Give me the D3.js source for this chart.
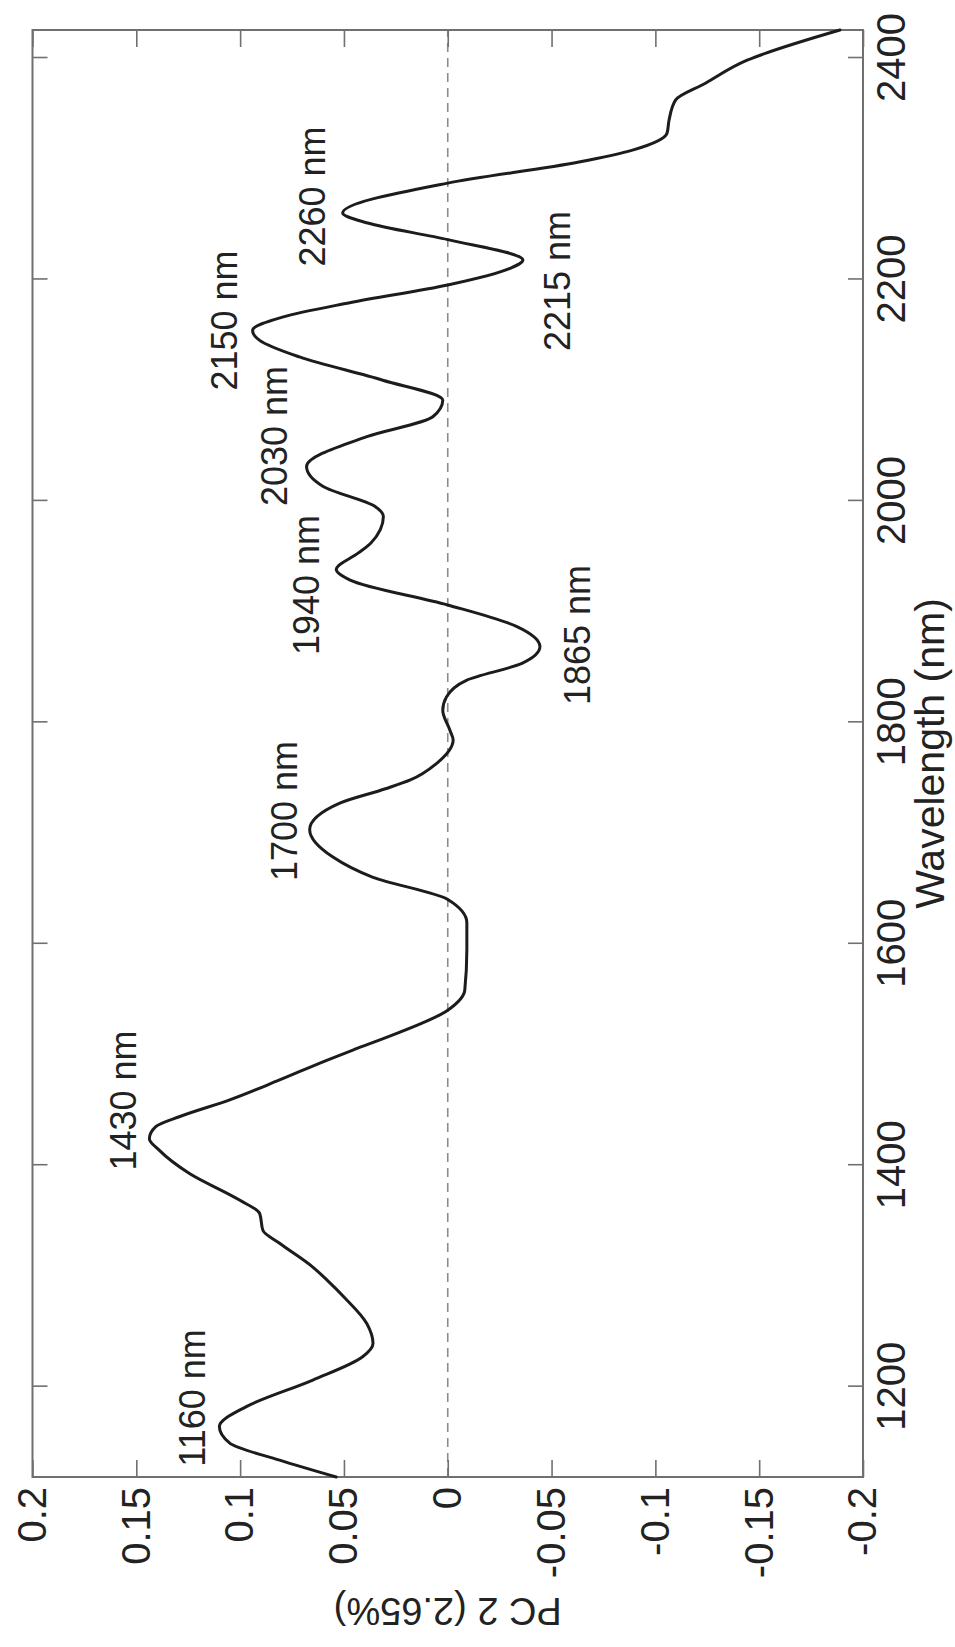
<!DOCTYPE html>
<html><head><meta charset="utf-8">
<script src="https://cdn.jsdelivr.net/npm/d3@7"></script>
<style>
html,body{margin:0;padding:0;background:#fff;}
svg{display:block;}
</style></head><body>
<svg id="chart" width="955" height="1647"></svg>
<script>
// ---- data ----
const wavelength = [1118.4,1133.6,1149,1164,1182,1206,1227,1239,1257,1281,1296,1308,1329.5,1341,1356.5,1368.5,1392.5,1413.6,1424,1435,1444,1459,1477,1495,1504,1513,1540,1558,1594.5,1619,1640,1660,1678.5,1703,1727,1740,1748,1763,1784,1793,1811,1823,1838,1853.5,1868.5,1886.5,1906,1928.5,1938,1953,1962,1986,1995,2013,2031,2058,2076,2091,2109,2130,2145,2154,2166,2179,2195,2210,2217.5,2236,2251,2260,2287,2306,2317,2332,2344,2362,2377,2398,2425.3];
const pc2 = [0.0537,0.081,0.105,0.110,0.097,0.065,0.041,0.036,0.039,0.050,0.058,0.065,0.081,0.089,0.0906,0.1003,0.1244,0.139,0.1437,0.1405,0.129,0.105,0.081,0.058,0.0457,0.033,0,-0.0082,-0.0092,-0.0092,0,0.036,0.0555,0.0665,0.052,0.030,0.018,0.0053,-0.0026,-0.001,0.0024,0.0006,-0.009,-0.036,-0.0444,-0.0333,0,0.047,0.0537,0.043,0.037,0.031,0.035,0.060,0.068,0.039,0.0072,0.0024,0.0313,0.0714,0.0906,0.094,0.0796,0.0472,0,-0.030,-0.0362,0,0.0386,0.0506,0,-0.0632,-0.0894,-0.1056,-0.1066,-0.1097,-0.1239,-0.1442,-0.1889];

const wlTicks = [1200,1400,1600,1800,2000,2200,2400];
const pcTicks = [-0.2,-0.15,-0.1,-0.05,0,0.05,0.1,0.15,0.2];
const pcTickLabels = ["-0.2","-0.15","-0.1","-0.05","0","0.05","0.1","0.15","0.2"];

const peakLabels = ["1160 nm","1430 nm","1700 nm","1865 nm","1940 nm","2030 nm","2150 nm","2215 nm","2260 nm"];
const peakLabelWl = [1189.8,1458.5,1719.9,1878.9,1924.0,2058.6,2162.9,2198.6,2274.9];
const peakLabelPc = [0.123,0.156,0.0786,-0.0624,0.068,0.0834,0.1075,-0.053,0.0653];

const xLabel = "Wavelength (nm)";
const yLabel = "PC 2 (2.65%)";
const wlDomain = [1118.4, 2425.3];
const pcDomain = [-0.2, 0.2];

// ---- layout (landscape chart, rotated -90deg onto the page) ----
const W = 1447, H = 830.5;
const FONT = "'Liberation Sans', Arial, Helvetica, sans-serif";
const svg = d3.select("#chart");
const g = svg.append("g").attr("transform", "translate(32.5,1477) rotate(-90)");

const x = d3.scaleLinear().domain(wlDomain).range([0, W]);
const y = d3.scaleLinear().domain(pcDomain).range([H, 0]);

function styleAxis(sel, fs) {
  sel.attr("font-family", FONT).attr("font-size", fs);
  sel.select(".domain").remove();
  sel.selectAll(".tick line").attr("stroke", "#707070").attr("stroke-width", 1.6);
  sel.selectAll(".tick text").attr("fill", "#222");
}

// zero line
g.append("line")
  .attr("x1", 0).attr("x2", W).attr("y1", y(0)).attr("y2", y(0))
  .attr("stroke", "#8c8c8c").attr("stroke-width", 1.6).attr("stroke-dasharray", "9,6");

// axes
g.append("g").attr("transform", `translate(0,${H})`)
  .call(d3.axisBottom(x).tickValues(wlTicks).tickSize(-15).tickPadding(14).tickFormat(d3.format("d")))
  .call(s => styleAxis(s, 40));
g.append("g")
  .call(d3.axisTop(x).tickValues(wlTicks).tickSize(-15).tickFormat(""))
  .call(s => styleAxis(s, 40));
g.append("g")
  .call(d3.axisLeft(y).tickValues(pcTicks).tickSize(-17).tickPadding(10).tickFormat((d, i) => pcTickLabels[i]))
  .call(s => styleAxis(s, 40));
g.append("g").attr("transform", `translate(${W},0)`)
  .call(d3.axisRight(y).tickValues(pcTicks).tickSize(-17).tickFormat(""))
  .call(s => styleAxis(s, 40));

// frame
g.append("rect").attr("x", 0).attr("y", 0).attr("width", W).attr("height", H)
  .attr("fill", "none").attr("stroke", "#707070").attr("stroke-width", 2);

// curve
const pts = wavelength.map((w, i) => ({ wl: w, pc: pc2[i] }));
const line = d3.line().x(d => x(d.wl)).y(d => y(d.pc)).curve(d3.curveMonotoneX);
g.append("path").datum(pts).attr("d", line)
  .attr("fill", "none").attr("stroke", "#1c1c1c").attr("stroke-width", 3)
  .attr("stroke-linejoin", "round").attr("stroke-linecap", "round");

// peak annotations
g.selectAll(".peak").data(peakLabels).enter().append("text")
  .attr("class", "peak")
  .attr("x", (d, i) => x(peakLabelWl[i]))
  .attr("y", (d, i) => y(peakLabelPc[i]))
  .attr("dy", "0.35em")
  .attr("text-anchor", "middle")
  .attr("font-family", FONT).attr("font-size", 36).attr("fill", "#222")
  .text(d => d);

// axis labels
g.append("text")
  .attr("x", W / 2).attr("y", H + 81)
  .attr("text-anchor", "middle")
  .attr("font-family", FONT).attr("font-size", 41).attr("fill", "#222")
  .text(xLabel);
g.append("text")
  .attr("transform", `translate(-121,${H / 2}) rotate(-90)`)
  .attr("text-anchor", "middle")
  .attr("font-family", FONT).attr("font-size", 38).attr("fill", "#222")
  .text(yLabel);
</script>
</body></html>
